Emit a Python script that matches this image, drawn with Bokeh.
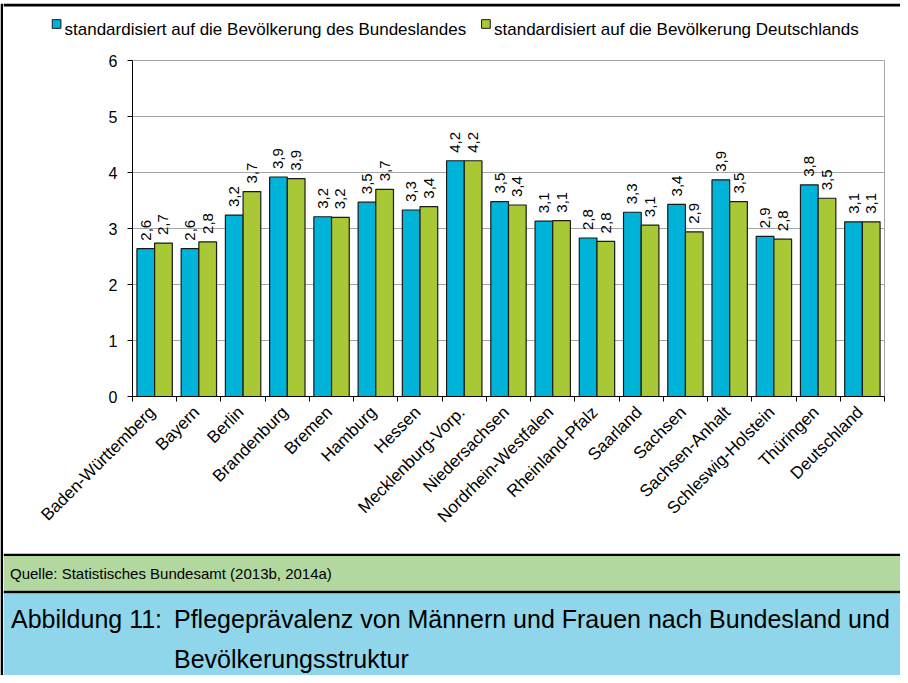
import math
import numpy as np
from bokeh.plotting import figure
from bokeh.models import Range1d, FixedTicker, ColumnDataSource
from bokeh.layouts import column, row
from bokeh.transform import dodge
from bokeh.core.properties import value
from bokeh.embed import file_html
from bokeh.resources import INLINE

# ---------------- data ----------------
states = ["Baden-Württemberg", "Bayern", "Berlin", "Brandenburg", "Bremen", "Hamburg",
          "Hessen", "Mecklenburg-Vorp.", "Niedersachsen", "Nordrhein-Westfalen",
          "Rheinland-Pfalz", "Saarland", "Sachsen", "Sachsen-Anhalt",
          "Schleswig-Holstein", "Thüringen", "Deutschland"]
std_bundesland = [2.64, 2.64, 3.24, 3.92, 3.21, 3.47, 3.33, 4.21, 3.48, 3.13,
                  2.83, 3.29, 3.43, 3.87, 2.86, 3.78, 3.12]
std_deutschland = [2.74, 2.76, 3.66, 3.89, 3.20, 3.70, 3.39, 4.21, 3.42, 3.14,
                   2.77, 3.06, 2.94, 3.48, 2.81, 3.54, 3.12]
y_ticks = [0, 1, 2, 3, 4, 5, 6]
legend_labels = ["standardisiert auf die Bevölkerung des Bundeslandes",
                 "standardisiert auf die Bevölkerung Deutschlands"]
source_text = "Quelle: Statistisches Bundesamt (2013b, 2014a)"
caption_number = "Abbildung 11:"
caption_lines = ["Pflegeprävalenz von Männern und Frauen nach Bundesland und",
                 "Bevölkerungsstruktur"]

BLUE = "#00b4d9"
GREEN = "#a9c835"
EDGE = "#1a1a1a"
FONT = "Liberation Sans"
W = 897  # width of the main column (a 3px black strip sits left of it)


def fmt(v):
    return f"{v:.1f}".replace(".", ",")


def deco_figure(w, h):
    fig = figure(width=w, height=h, x_range=Range1d(0, w), y_range=Range1d(h, 0),
                 output_backend="svg", toolbar_location=None, min_border=0,
                 x_axis_location=None, y_axis_location=None)
    fig.outline_line_color = None
    fig.grid.visible = False
    fig.background_fill_color = "white"
    fig.border_fill_color = "white"
    fig.frame_align = False
    return fig


# ---------------- left border strip ----------------
strip = deco_figure(3, 675)
strip.quad(left=[0], right=[2.6], top=[3.3], bottom=[675], fill_color="#000000", line_color=None)

# ---------------- legend header ----------------
hdr = deco_figure(W, 44)
hdr.quad(left=[0], right=[W], top=[3.3], bottom=[5.9], fill_color="#000000", line_color=None)
hdr.rect(x=[53.1, 482.4], y=[23.5, 23.5], width=8.7, height=8.7,
         fill_color=[BLUE, GREEN], line_color=EDGE, line_width=1)
hdr.text(x=[61, 490.5], y=[29, 29], text=legend_labels, text_baseline="alphabetic",
         text_font=value(FONT), text_font_size="17px", text_color="#000000")

# ---------------- chart ----------------
centers = np.arange(len(states)) + 0.5
src = ColumnDataSource(dict(
    x=centers, bund=std_bundesland, deut=std_deutschland,
    lb=[fmt(v) for v in std_bundesland], ld=[fmt(v) for v in std_deutschland]))

p = figure(width=W, height=509, x_range=Range1d(0, len(states)), y_range=Range1d(0, 6),
           output_backend="svg", toolbar_location=None,
           min_border_left=129, min_border_right=16, min_border_top=16, min_border_bottom=157)
p.frame_align = False

p.vbar(x=dodge("x", -0.2), top="bund", width=0.4, source=src,
       fill_color=BLUE, line_color=EDGE, line_width=1.2)
p.vbar(x=dodge("x", 0.2), top="deut", width=0.4, source=src,
       fill_color=GREEN, line_color=EDGE, line_width=1.2)

for fld, lab, dx in (("bund", "lb", -0.2), ("deut", "ld", 0.2)):
    p.text(x=dodge("x", dx), y=fld, text=lab, source=src, angle=math.pi / 2,
           text_align="left", text_baseline="middle", y_offset=-8,
           text_font=value(FONT), text_font_size="15px", text_color="#000000")

label_pos = [float(c) - 0.05 for c in centers]
p.xaxis.ticker = FixedTicker(ticks=label_pos, minor_ticks=list(range(len(states) + 1)))
p.xaxis.major_label_overrides = {c: s for c, s in zip(label_pos, states)}
p.xaxis.major_label_orientation = math.pi / 4
p.xaxis.major_tick_line_color = None
p.xaxis.major_tick_out = 5
p.xaxis.major_tick_in = 0
p.xaxis.minor_tick_line_color = "#000000"
p.xaxis.minor_tick_out = 5
p.xaxis.minor_tick_in = 0
p.xaxis.major_label_standoff = 8
p.xaxis.major_label_text_font = FONT
p.xaxis.major_label_text_font_size = "17px"
p.xaxis.major_label_text_color = "#000000"
p.xaxis.axis_line_color = "#000000"

p.yaxis.ticker = FixedTicker(ticks=y_ticks)
p.yaxis.minor_tick_line_color = None
p.yaxis.major_tick_out = 5
p.yaxis.major_tick_in = 0
p.yaxis.major_tick_line_color = "#000000"
p.yaxis.major_label_standoff = 10
p.yaxis.major_label_text_font = FONT
p.yaxis.major_label_text_font_size = "16px"
p.yaxis.major_label_text_color = "#000000"
p.yaxis.axis_line_color = "#000000"

p.xgrid.grid_line_color = None
p.ygrid.grid_line_color = "#a6a6a6"
p.outline_line_color = "#a6a6a6"
p.background_fill_color = "white"
p.border_fill_color = "white"

# ---------------- footer ----------------
f = deco_figure(W, 122)
f.quad(left=[0, 0, 0, 0], right=[W, W, W, W],
       top=[0, 2.5, 37.3, 40], bottom=[2.5, 37.3, 40, 122],
       fill_color=["#000000", "#b2d89f", "#000000", "#8fd6eb"], line_color=None)
f.text(x=[6.5], y=[20.3], text=[source_text], text_baseline="alphabetic",
       text_font=value(FONT), text_font_size="15px", text_color="#000000")
f.text(x=[7.5], y=[65.7], text=[caption_number], text_baseline="alphabetic",
       text_font=value(FONT), text_font_size="25px", text_color="#000000")
f.text(x=[170.5, 170.5], y=[65.7, 105.9], text=caption_lines, text_baseline="alphabetic",
       text_font=value(FONT), text_font_size="25px", text_color="#000000")

layout = row(strip, column(hdr, p, f, spacing=0), spacing=0)
open("out.html", "w").write(file_html(layout, INLINE))
